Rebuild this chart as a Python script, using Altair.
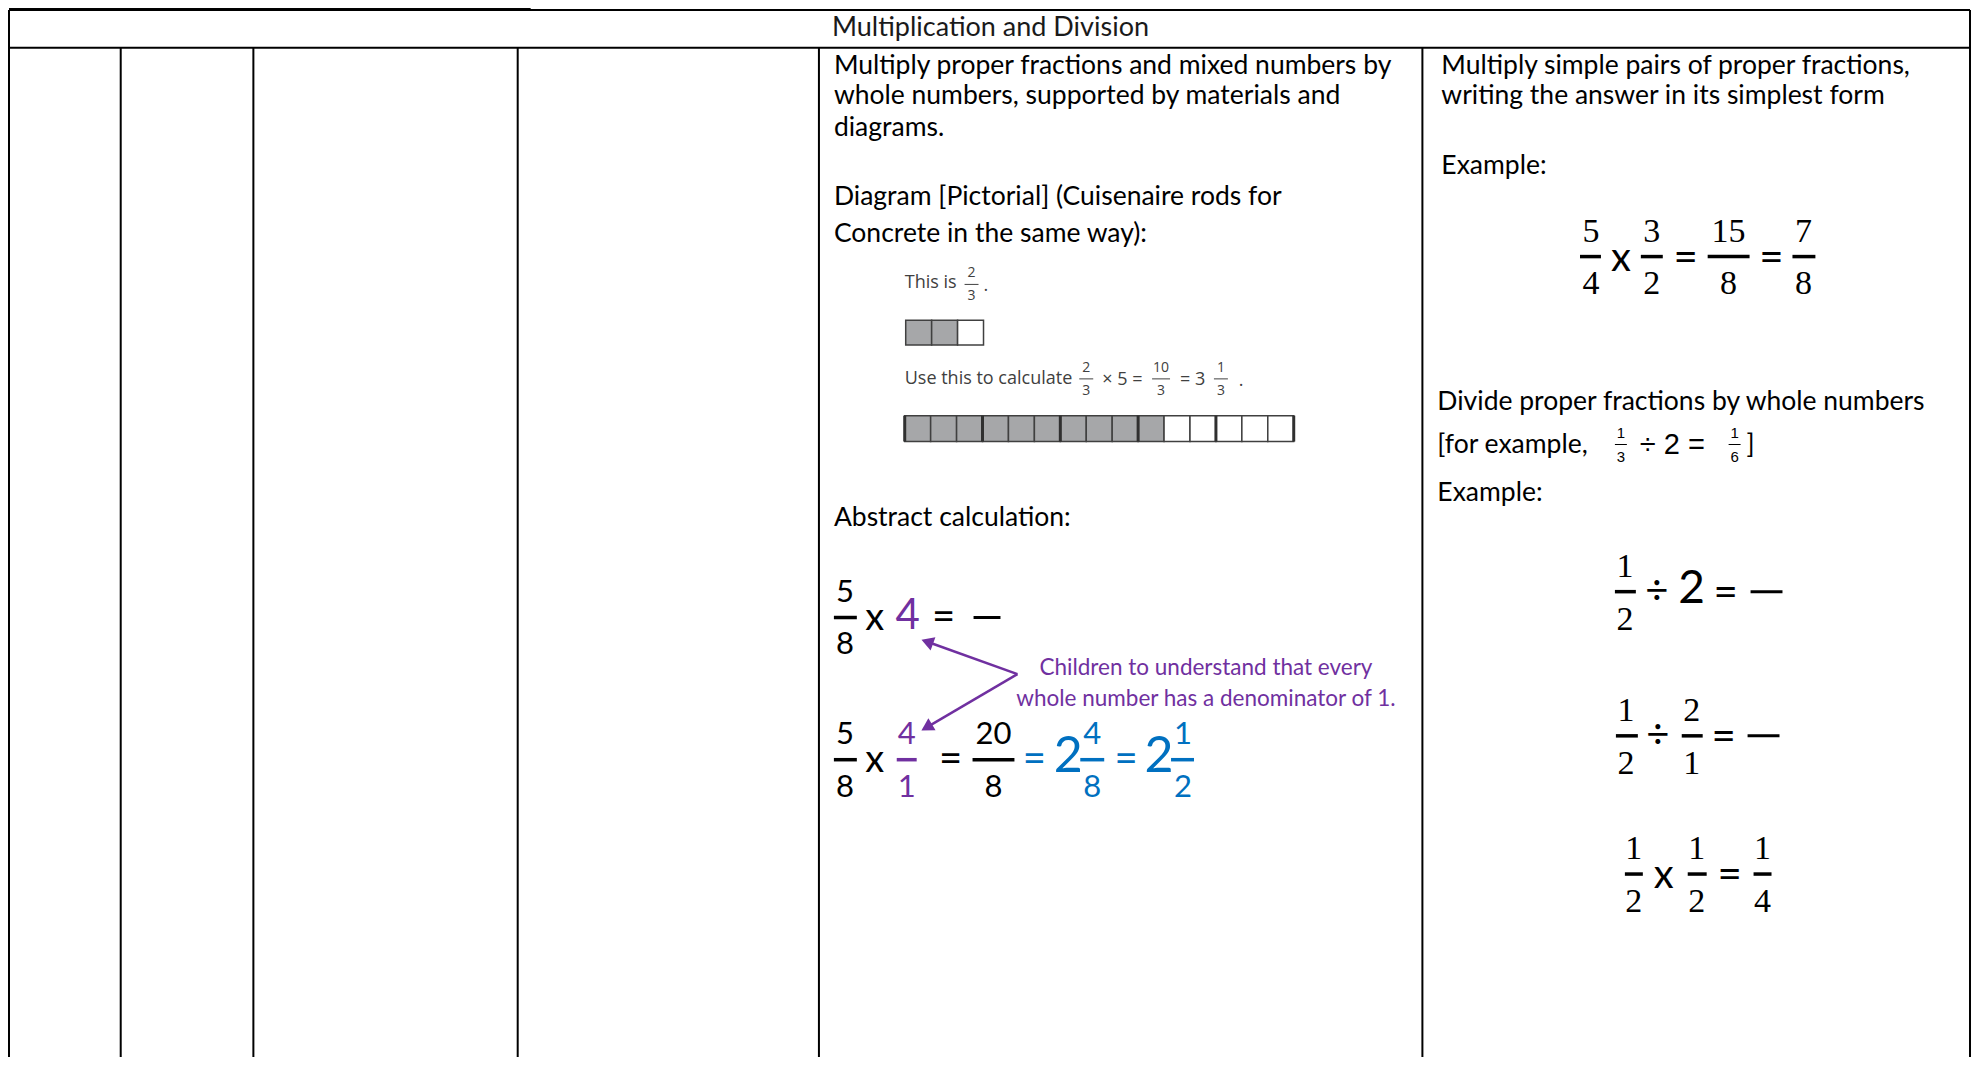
import altair as alt
import pandas as pd
import math

W, H = 1964, 1049
XD = [9, 1978]
YD = [3, 1058]

BLACK, PURPLE, BLUE, GREY = "#000000", "#7030a0", "#0070c0", "#404040"
SANS, SERIF, SMALL, ARIAL = "Lato", "Liberation Serif", "Open Sans", "Liberation Sans"

# ---------------- table grid ----------------
grid_x = [10, 122, 255, 520, 822, 1427, 1976]
table_top, header_bottom, table_bottom = 5, 43, 1075
top_line = (10, 533, 3.5)

header_text = "Multiplication and Division"
header_pos = (835, 23)

# ---------------- body text lines (x, y, text) ----------------
body_lines = [
    (837, 61, "Multiply proper fractions and mixed numbers by"),
    (837, 92, "whole numbers, supported by materials and"),
    (837, 124, "diagrams."),
    (837, 193, "Diagram [Pictorial] (Cuisenaire rods for"),
    (837, 230, "Concrete in the same way):"),
    (837, 516, "Abstract calculation:"),
    (1446, 61, "Multiply simple pairs of proper fractions,"),
    (1446, 92, "writing the answer in its simplest form"),
    (1446, 162, "Example:"),
    (1442, 399, "Divide proper fractions by whole numbers"),
    (1442, 442, "[for example,"),
    (1752, 442, "]"),
    (1442, 491, "Example:"),
]

note_lines = [
    (1210, 667, "Children to understand that every"),
    (1210, 698, "whole number has a denominator of 1."),
]

# small pictorial text
small_lines = [
    (908, 280, "This is"),
    (987, 283, "."),
    (908, 376, "Use this to calculate"),
    (1106, 377, "×  5  ="),
    (1184, 377, "=  3"),
    (1243, 378, "."),
]
# small fractions: (x, bar_y, num, den, half_width)
small_fracs = [
    (975, 281, "2", "3", 7),
    (1090, 376, "2", "3", 7),
    (1165, 376, "10", "3", 9),
    (1225, 376, "1", "3", 7),
]

# cuisenaire rods: shaded cells
rod1_shaded = [1, 1, 0]
rod2_shaded = [1] * 10 + [0] * 5
rod1_box = (909, 317, 342, 26)
rod2_box = (908, 413, 439, 26)

# ---------------- equations ----------------
# fractions: (x_center, bar_y, num, den, bar_x0, bar_x1, color, family)
fracs = [
    (848, 616, "5", "8", 837, 860, BLACK, "sans"),
    (848, 759, "5", "8", 837, 860, BLACK, "sans"),
    (910, 759, "4", "1", 900, 920, PURPLE, "sans"),
    (997, 759, "20", "8", 976, 1018, BLACK, "sans"),
    (1096, 759, "4", "8", 1084, 1108, BLUE, "sans"),
    (1187, 759, "1", "2", 1175, 1198, BLUE, "sans"),
    (1596, 253, "5", "4", 1585, 1606, BLACK, "serif"),
    (1657, 253, "3", "2", 1646, 1668, BLACK, "serif"),
    (1734, 253, "15", "8", 1713, 1755, BLACK, "serif"),
    (1809, 253, "7", "8", 1798, 1821, BLACK, "serif"),
    (1630, 590, "1", "2", 1620, 1641, BLACK, "serif"),
    (1631, 735, "1", "2", 1621, 1643, BLACK, "serif"),
    (1697, 735, "2", "1", 1687, 1708, BLACK, "serif"),
    (1639, 874, "1", "2", 1630, 1648, BLACK, "serif"),
    (1702, 874, "1", "2", 1693, 1712, BLACK, "serif"),
    (1768, 874, "1", "4", 1759, 1777, BLACK, "serif"),
    (1626, 442, "1", "3", 1620, 1632, BLACK, "small"),
    (1740, 442, "1", "6", 1734, 1746, BLACK, "small"),
]
# operators / whole numbers: (x, y, text, size, color)
ops = [
    (878, 617, "x", 38, BLACK),
    (911, 614, "4", 42, PURPLE),
    (947, 616, "=", 40, BLACK),
    (878, 760, "x", 38, BLACK),
    (954, 759, "=", 40, BLACK),
    (1038, 759, "=", 40, BLUE),
    (1072, 756, "2", 50, BLUE),
    (1130, 759, "=", 40, BLUE),
    (1163, 756, "2", 50, BLUE),
    (1626, 255, "x", 40, BLACK),
    (1691, 254, "=", 42, BLACK),
    (1777, 254, "=", 42, BLACK),
    (1662, 590, "÷", 40, BLACK),
    (1697, 587, "2", 46, BLACK),
    (1731, 591, "=", 42, BLACK),
    (1663, 735, "÷", 40, BLACK),
    (1729, 736, "=", 42, BLACK),
    (1669, 876, "x", 40, BLACK),
    (1735, 875, "=", 42, BLACK),
]
ops_arial = [(1645, 443, "÷ 2 =", 29, BLACK)]
# blank answer dashes: (x0, x1, y)
dashes = [(977, 1004, 616), (1756, 1788, 590), (1753, 1785, 735)]

# arrow: vertex and tips
arrow_vertex = (1021, 673)
arrow_tips = [(924, 638), (924, 730)]

# ---------------- build tables ----------------
def xs(f):
    return alt.X(f, type="quantitative", scale=alt.Scale(domain=XD, nice=False, zero=False), axis=None)

def ys(f):
    return alt.Y(f, type="quantitative", scale=alt.Scale(domain=YD, nice=False, zero=False, reverse=True), axis=None)

rules = []
for i, gx in enumerate(grid_x):
    y0 = table_top if i in (0, len(grid_x) - 1) else header_bottom
    rules.append(dict(x=gx, y=y0, x2=gx, y2=table_bottom, w=2, c=BLACK))
rules.append(dict(x=grid_x[0], y=table_top, x2=grid_x[-1], y2=table_top, w=2, c=BLACK))
rules.append(dict(x=grid_x[0], y=header_bottom, x2=grid_x[-1], y2=header_bottom, w=2, c=BLACK))
rules.append(dict(x=top_line[0], y=top_line[2], x2=top_line[1], y2=top_line[2], w=1, c=BLACK))

for (x0, x1, y) in dashes:
    rules.append(dict(x=x0, y=y, x2=x1, y2=y, w=3, c=BLACK))

num_off = {"sans": (-25, 28), "serif": (-25, 28), "small": (-12, 13)}
frac_size = {"sans": 31, "serif": 34, "small": 15}
frac_rows = {"sans": [], "serif": [], "small": []}
for (x, by, n, d, b0, b1, col, fam) in fracs:
    up, dn = num_off[fam]
    frac_rows[fam].append(dict(x=x, y=by + up, t=n, s=frac_size[fam], c=col))
    frac_rows[fam].append(dict(x=x, y=by + dn, t=d, s=frac_size[fam], c=col))
    rules.append(dict(x=b0, y=by, x2=b1, y2=by, w=3.5 if fam != "small" else 1, c=col))

small_frac_rows = []
for (x, by, n, d, hw) in small_fracs:
    small_frac_rows.append(dict(x=x, y=by - 11, t=n, s=14, c=GREY))
    small_frac_rows.append(dict(x=x, y=by + 12, t=d, s=14, c=GREY))
    rules.append(dict(x=x - hw, y=by, x2=x + hw, y2=by, w=1, c=GREY))

# rods
rects = []
def add_rod(shaded, box, thick_every):
    x0, ya, yb, cw = box
    for k, s in enumerate(shaded):
        rects.append(dict(x=x0 + k * cw, x2=x0 + (k + 1) * cw, y=ya, y2=yb,
                          f="#a6a7a9" if s else "#ffffff"))
    if thick_every:
        for k in range(0, len(shaded) + 1, thick_every):
            rules.append(dict(x=x0 + k * cw, y=ya, x2=x0 + k * cw, y2=yb, w=3, c="#303030"))
add_rod(rod1_shaded, rod1_box, 0)
add_rod(rod2_shaded, rod2_box, 3)

# arrow
heads = []
vx, vy = arrow_vertex
for (tx, ty) in arrow_tips:
    dx, dy = tx - vx, ty - vy
    L = math.hypot(dx, dy)
    ux, uy = dx / L, dy / L
    cx, cy = tx - 7 * ux, ty - 7 * uy
    ang = math.degrees(math.atan2(ux, -uy)) % 360
    rules.append(dict(x=vx, y=vy, x2=cx, y2=cy, w=2.5, c=PURPLE))
    heads.append(dict(x=cx, y=cy, a=ang))

rules_df = pd.DataFrame(rules)
rule_layer = alt.Chart(rules_df).mark_rule(strokeCap="butt").encode(
    x=xs("x"), y=ys("y"), x2=alt.X2("x2"), y2=alt.Y2("y2"),
    strokeWidth=alt.StrokeWidth("w:Q", scale=None),
    color=alt.Color("c:N", scale=None),
)

rect_layer = alt.Chart(pd.DataFrame(rects)).mark_rect(stroke="#404040", strokeWidth=1.5).encode(
    x=xs("x"), x2=alt.X2("x2"), y=ys("y"), y2=alt.Y2("y2"),
    fill=alt.Fill("f:N", scale=None),
)

head_layer = alt.Chart(pd.DataFrame(heads)).mark_point(
    shape="triangle-up", filled=True, size=200, color=PURPLE, opacity=1
).encode(x=xs("x"), y=ys("y"), angle=alt.Angle("a:Q", scale=None))


def text_layer(rows, font, align, default_size=None, default_color=BLACK):
    df = pd.DataFrame(rows)
    if "s" not in df:
        df["s"] = default_size
    if "c" not in df:
        df["c"] = default_color
    return alt.Chart(df).mark_text(font=font, align=align, baseline="middle").encode(
        x=xs("x"), y=ys("y"), text="t:N",
        size=alt.Size("s:Q", scale=None), color=alt.Color("c:N", scale=None),
    )

header_layer = text_layer([dict(x=header_pos[0], y=header_pos[1], t=header_text)], SANS, "left", 27, "#1a1a1a")
body_layer = text_layer([dict(x=x, y=y, t=t) for x, y, t in body_lines], SANS, "left", 26.5)
note_layer = text_layer([dict(x=x, y=y, t=t) for x, y, t in note_lines], SANS, "center", 22.5, PURPLE)
small_layer = text_layer([dict(x=x, y=y, t=t) for x, y, t in small_lines], SMALL, "left", 18, GREY)
small_frac_layer = text_layer(small_frac_rows, SMALL, "center")
frac_sans = text_layer(frac_rows["sans"], SANS, "center")
frac_serif = text_layer(frac_rows["serif"], SERIF, "center")
frac_small = text_layer(frac_rows["small"], ARIAL, "center")
ops_layer = text_layer([dict(x=x, y=y, t=t, s=s, c=c) for x, y, t, s, c in ops], SANS, "center")
ops_arial_layer = text_layer([dict(x=x, y=y, t=t, s=s, c=c) for x, y, t, s, c in ops_arial], ARIAL, "left")

chart = alt.layer(
    rect_layer, rule_layer, head_layer,
    header_layer, body_layer, note_layer, small_layer, small_frac_layer,
    frac_sans, frac_serif, frac_small, ops_layer, ops_arial_layer,
).properties(
    width=W, height=H, padding=0,
    autosize=alt.AutoSizeParams(type="none"),
    background="white",
).configure_view(stroke=None)

chart.save("out.html", embed_options={"renderer": "svg", "actions": False})
